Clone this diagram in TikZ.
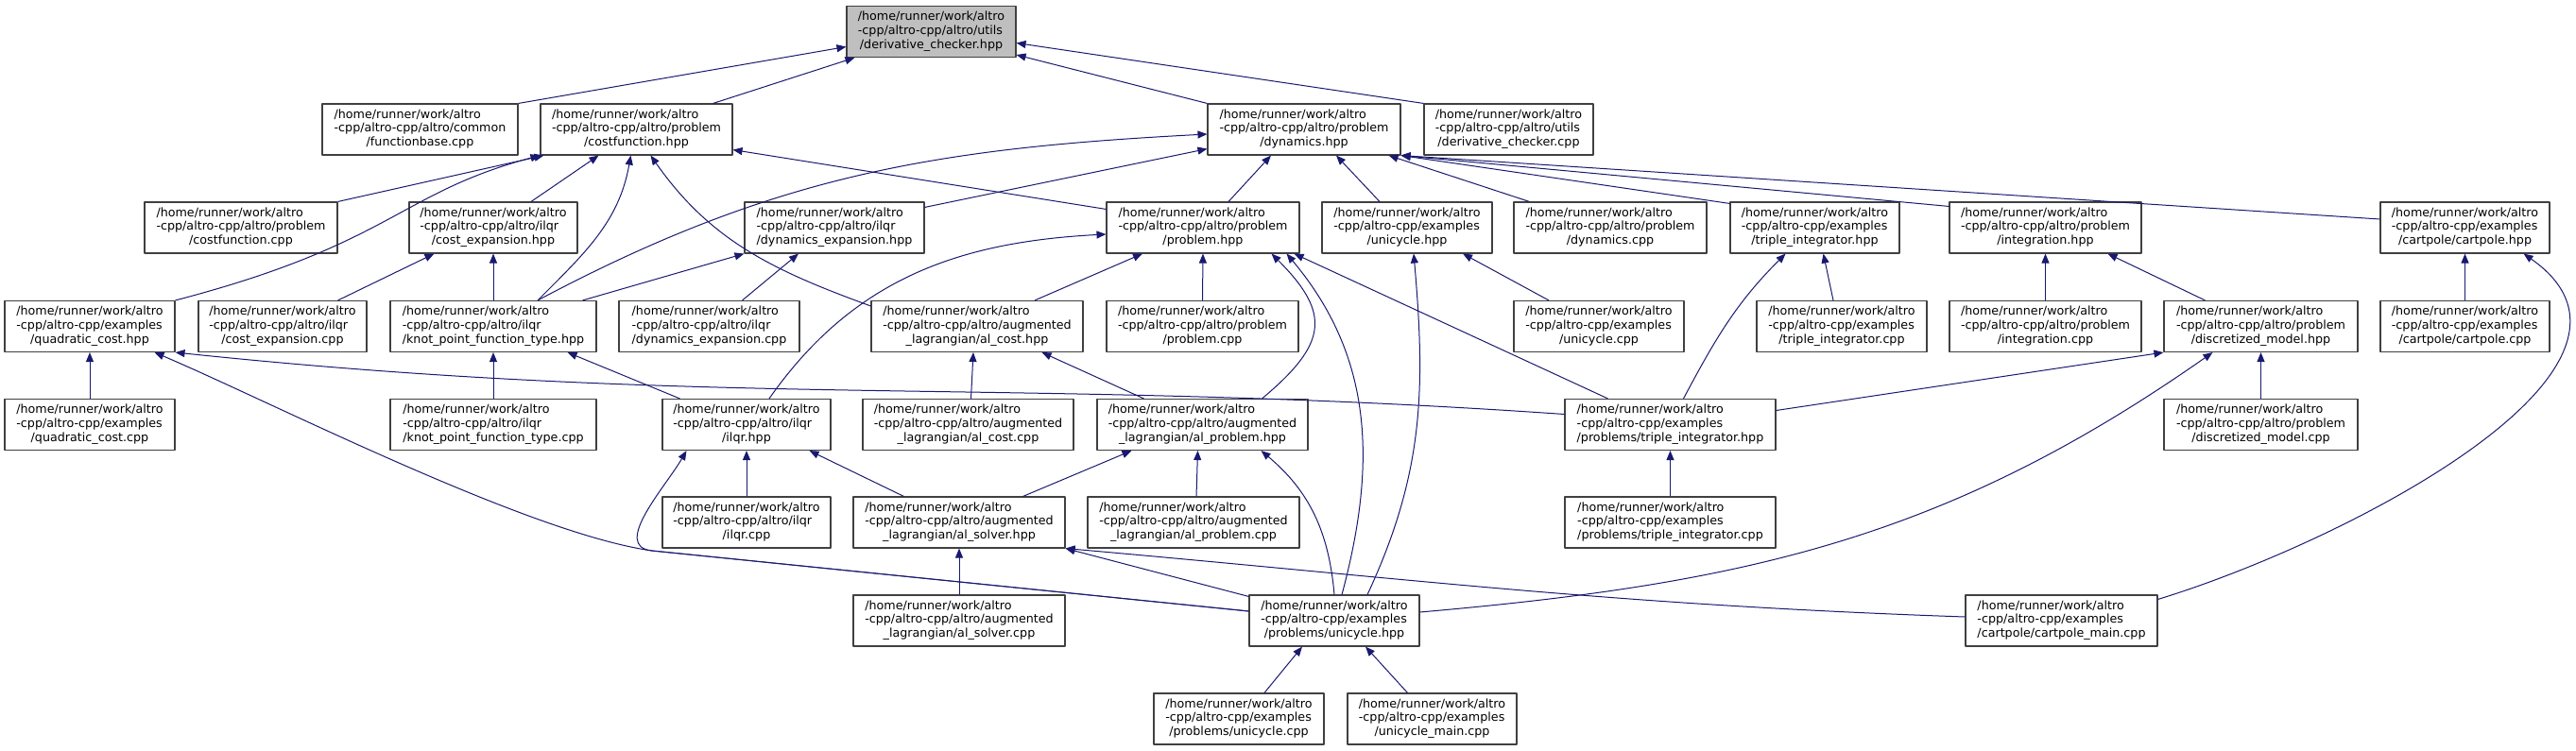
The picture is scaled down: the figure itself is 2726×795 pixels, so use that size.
\documentclass[tikz,border=0pt]{standalone}
\usepackage{fontspec}
\setmainfont{DejaVu Sans}
\usetikzlibrary{arrows.meta}
\definecolor{edgeblue}{HTML}{191970}
\newcommand{\fpath}[2]{\begin{tabular}{@{}l@{}}/home/runner/work/altro\\#1\\\multicolumn{1}{@{}c@{}}{#2}\end{tabular}}
\begin{document}
\begin{tikzpicture}[x=1pt,y=-1pt,line join=round,>={Triangle[length=10pt,width=8pt]},font=\fontsize{12.7}{14.8}\selectfont,
  incfile/.style={draw=black!75,line width=1.1pt,fill=white,minimum width=#1,minimum height=54pt,inner sep=0pt},
  dep/.style={draw=edgeblue,line width=1pt,->}]
\useasboundingbox (0,0) rectangle (2726,795);
\node[incfile=179pt,fill=black!25] (root) at (985.5,33.5) {\fpath{-cpp/altro-cpp/altro/utils}{/derivative\_checker.hpp}};
\node[incfile=207pt] (fb) at (444.5,137) {\fpath{-cpp/altro-cpp/altro/common}{/functionbase.cpp}};
\node[incfile=203pt] (cf) at (673.5,137) {\fpath{-cpp/altro-cpp/altro/problem}{/costfunction.hpp}};
\node[incfile=204pt] (dyn) at (1380,137) {\fpath{-cpp/altro-cpp/altro/problem}{/dynamics.hpp}};
\node[incfile=179pt] (dccpp) at (1596.5,137) {\fpath{-cpp/altro-cpp/altro/utils}{/derivative\_checker.cpp}};
\node[incfile=204pt] (cfcpp) at (255,241) {\fpath{-cpp/altro-cpp/altro/problem}{/costfunction.cpp}};
\node[incfile=178pt] (ce) at (522,241) {\fpath{-cpp/altro-cpp/altro/ilqr}{/cost\_expansion.hpp}};
\node[incfile=190pt] (de) at (883,241) {\fpath{-cpp/altro-cpp/altro/ilqr}{/dynamics\_expansion.hpp}};
\node[incfile=204pt] (prob) at (1273,241) {\fpath{-cpp/altro-cpp/altro/problem}{/problem.hpp}};
\node[incfile=180pt] (unih) at (1489,241) {\fpath{-cpp/altro-cpp/examples}{/unicycle.hpp}};
\node[incfile=204pt] (dyncpp) at (1704,241) {\fpath{-cpp/altro-cpp/altro/problem}{/dynamics.cpp}};
\node[incfile=179pt] (trih) at (1920.5,241) {\fpath{-cpp/altro-cpp/examples}{/triple\_integrator.hpp}};
\node[incfile=203pt] (integ) at (2164.5,241) {\fpath{-cpp/altro-cpp/altro/problem}{/integration.hpp}};
\node[incfile=179pt] (cart) at (2608.5,241) {\fpath{-cpp/altro-cpp/examples}{/cartpole/cartpole.hpp}};
\node[incfile=180pt] (quad) at (95,345.5) {\fpath{-cpp/altro-cpp/examples}{/quadratic\_cost.hpp}};
\node[incfile=178pt] (cecpp) at (299,345.5) {\fpath{-cpp/altro-cpp/altro/ilqr}{/cost\_expansion.cpp}};
\node[incfile=218pt] (kp) at (522,345.5) {\fpath{-cpp/altro-cpp/altro/ilqr}{/knot\_point\_function\_type.hpp}};
\node[incfile=191pt] (decpp) at (750.5,345.5) {\fpath{-cpp/altro-cpp/altro/ilqr}{/dynamics\_expansion.cpp}};
\node[incfile=224pt] (alcost) at (1034,345.5) {\fpath{-cpp/altro-cpp/altro/augmented}{\_lagrangian/al\_cost.hpp}};
\node[incfile=203pt] (probcpp) at (1272.5,345.5) {\fpath{-cpp/altro-cpp/altro/problem}{/problem.cpp}};
\node[incfile=180pt] (unicpp) at (1692,345.5) {\fpath{-cpp/altro-cpp/examples}{/unicycle.cpp}};
\node[incfile=180pt] (tricpp) at (1949,345.5) {\fpath{-cpp/altro-cpp/examples}{/triple\_integrator.cpp}};
\node[incfile=203pt] (integcpp) at (2164.5,345.5) {\fpath{-cpp/altro-cpp/altro/problem}{/integration.cpp}};
\node[incfile=205pt] (disc) at (2392.5,345.5) {\fpath{-cpp/altro-cpp/altro/problem}{/discretized\_model.hpp}};
\node[incfile=179pt] (cartcpp) at (2608.5,345.5) {\fpath{-cpp/altro-cpp/examples}{/cartpole/cartpole.cpp}};
\node[incfile=180pt] (quadcpp) at (95,449.5) {\fpath{-cpp/altro-cpp/examples}{/quadratic\_cost.cpp}};
\node[incfile=218pt] (kpcpp) at (522,449.5) {\fpath{-cpp/altro-cpp/altro/ilqr}{/knot\_point\_function\_type.cpp}};
\node[incfile=178pt] (ilqr) at (790,449.5) {\fpath{-cpp/altro-cpp/altro/ilqr}{/ilqr.hpp}};
\node[incfile=223pt] (alcostcpp) at (1024.5,449.5) {\fpath{-cpp/altro-cpp/altro/augmented}{\_lagrangian/al\_cost.cpp}};
\node[incfile=223pt] (alprob) at (1272.5,449.5) {\fpath{-cpp/altro-cpp/altro/augmented}{\_lagrangian/al\_problem.hpp}};
\node[incfile=223pt] (pt) at (1767.5,449.5) {\fpath{-cpp/altro-cpp/examples}{/problems/triple\_integrator.hpp}};
\node[incfile=205pt] (disccpp) at (2392.5,449.5) {\fpath{-cpp/altro-cpp/altro/problem}{/discretized\_model.cpp}};
\node[incfile=178pt] (ilqrcpp) at (790,553) {\fpath{-cpp/altro-cpp/altro/ilqr}{/ilqr.cpp}};
\node[incfile=224pt] (alsolver) at (1015,553) {\fpath{-cpp/altro-cpp/altro/augmented}{\_lagrangian/al\_solver.hpp}};
\node[incfile=224pt] (alprobcpp) at (1263,553) {\fpath{-cpp/altro-cpp/altro/augmented}{\_lagrangian/al\_problem.cpp}};
\node[incfile=223pt] (ptcpp) at (1767.5,553) {\fpath{-cpp/altro-cpp/examples}{/problems/triple\_integrator.cpp}};
\node[incfile=224pt] (alsolvercpp) at (1015,657) {\fpath{-cpp/altro-cpp/altro/augmented}{\_lagrangian/al\_solver.cpp}};
\node[incfile=180pt] (pu) at (1412,657) {\fpath{-cpp/altro-cpp/examples}{/problems/unicycle.hpp}};
\node[incfile=203pt] (cartmain) at (2181.5,657) {\fpath{-cpp/altro-cpp/examples}{/cartpole/cartpole\_main.cpp}};
\node[incfile=180pt] (pucpp) at (1311,761) {\fpath{-cpp/altro-cpp/examples}{/problems/unicycle.cpp}};
\node[incfile=179pt] (unimain) at (1515.5,761) {\fpath{-cpp/altro-cpp/examples}{/unicycle\_main.cpp}};
\coordinate (bend) at (690,583);
% includes of derivative_checker.hpp
\draw[dep] (fb.north east) -- ([yshift=-16pt]root.west);
\draw[dep] ([xshift=-21pt]cf.north east) -- ([xshift=9pt]root.south west);
\draw[dep] (dyn.north west) -- ([yshift=3pt]root.south east);
\draw[dep] (dccpp.north west) -- ([yshift=-12pt]root.east);
% costfunction.hpp
\draw[dep] (cfcpp.north east) -- ([xshift=4pt]cf.south west);
\draw[dep] (quad.north east) .. controls +(230,-60) and +(-150,40) .. (cf.south west);
\draw[dep] ([xshift=40pt]ce.north) -- ([xshift=-40pt]cf.south);
\draw[dep] ([xshift=47pt]kp.north) to[out=45,in=-100] ([xshift=-6pt]cf.south);
\draw[dep] ([yshift=-6pt]alcost.north west) to[out=160,in=-55] ([xshift=15pt]cf.south);
\draw[dep] ([yshift=-8pt]prob.north west) -- ([yshift=6pt]cf.south east);
% dynamics.hpp
\draw[dep] ([xshift=47pt]kp.north) to[out=28,in=183] ([yshift=-5pt]dyn.west);
\draw[dep] ([yshift=-6pt]de.north east) -- ([yshift=7pt]dyn.south west);
\draw[dep] ([xshift=27pt]prob.north) -- ([xshift=-35pt]dyn.south);
\draw[dep] ([xshift=-29pt]unih.north) -- ([xshift=34pt]dyn.south);
\draw[dep] ([xshift=17pt]dyncpp.north west) -- ([xshift=-13pt]dyn.south east);
\draw[dep] ([yshift=-2pt]trih.north west) -- (dyn.south east);
\draw[dep] ([yshift=-5pt]integ.north west) -- (dyn.south east);
\draw[dep] ([yshift=9pt]cart.west) -- (dyn.south east);
% problem.hpp
\draw[dep] ([xshift=24pt]ilqr.north) to[out=55,in=183] ([yshift=-7pt]prob.west);
\draw[dep] ([xshift=61pt]alcost.north) -- ([xshift=-64pt]prob.south);
\draw[dep] (probcpp.north) -- (prob.south);
\draw[dep] ([xshift=63pt]alprob.north) to[out=40,in=-45,looseness=1.5] ([xshift=-30pt]prob.south east);
\draw[dep] ([xshift=8pt]pu.north) to[out=75,in=-50] ([xshift=-14pt]prob.south east);
\draw[dep] ([xshift=-66pt]pt.north) -- ([xshift=-6pt]prob.south east);
% examples
\draw[dep] ([xshift=-53pt]unicpp.north) -- ([xshift=59pt]unih.south);
\draw[dep] ([xshift=35pt]pu.north) to[out=65,in=-85] ([xshift=7pt]unih.south);
\draw[dep] ([xshift=-9pt]tricpp.north) -- ([xshift=9pt]trih.south);
\draw[dep] ([xshift=14pt]pt.north) to[out=62,in=-135] ([xshift=-31pt]trih.south);
\draw[dep] (integcpp.north) -- (integ.south);
\draw[dep] ([xshift=-59pt]disc.north) -- ([xshift=66pt]integ.south);
\draw[dep] (cartcpp.north) -- (cart.south);
\draw[dep] ([yshift=-5pt]cartmain.north east) to[out=17,in=-35] ([xshift=-28pt]cart.south east);
\draw[dep] (disccpp.north) -- (disc.south);
\draw[dep] ([yshift=15pt]pt.east) -- (disc.south west);
\draw[dep] ([yshift=9pt]pu.east) to[out=5,in=-145] ([xshift=52pt]disc.south west);
\draw[dep] (quadcpp.north) -- (quad.south);
\draw[dep] ([yshift=10pt]pu.west) -- (bend) to[out=172,in=-23,looseness=0.6] ([xshift=-22pt]quad.south east);
\draw[dep] ([yshift=11pt]pt.west) .. controls +(-575,-40) and +(573,60) .. (quad.south east);
% ilqr
\draw[dep] (kpcpp.north) -- (kp.south);
\draw[dep] ([xshift=19pt]ilqr.north west) -- ([xshift=-31pt]kp.south east);
\draw[dep] ([xshift=-31pt]cecpp.north east) -- ([xshift=27pt]ce.south west);
\draw[dep] (kp.north) -- (ce.south);
\draw[dep] ([xshift=35pt]decpp.north) -- ([xshift=-38pt]de.south);
\draw[dep] ([xshift=-15pt]kp.north east) -- (de.south west);
\draw[dep] (ilqrcpp.north) -- (ilqr.south);
\draw[dep] ([xshift=54pt]alsolver.north west) -- ([xshift=-23pt]ilqr.south east);
\draw[dep] ([yshift=10pt]pu.west) -- (bend) to[out=174,in=-120] ([xshift=26pt]ilqr.south west);
% augmented_lagrangian
\draw[dep] ([xshift=3pt]alcostcpp.north) -- ([xshift=-4pt]alcost.south);
\draw[dep] ([xshift=50pt]alprob.north west) -- ([xshift=-44pt]alcost.south east);
\draw[dep] ([xshift=-45pt]alsolver.north east) -- ([xshift=37pt]alprob.south west);
\draw[dep] ([xshift=3pt]alprobcpp.north) -- ([xshift=-5pt]alprob.south);
\draw[dep] (pu.north) to[out=95,in=-40] ([xshift=-50pt]alprob.south east);
\draw[dep] (alsolvercpp.north) -- (alsolver.south);
\draw[dep] ([yshift=-2pt]pu.north west) -- (alsolver.south east);
\draw[dep] ([yshift=4pt]cartmain.west) .. controls +(-374,-13) and +(373,33) .. (alsolver.south east);
% problems/*
\draw[dep] ([xshift=27pt]pucpp.north) -- ([xshift=-34pt]pu.south);
\draw[dep] ([xshift=-26pt]unimain.north) -- ([xshift=33pt]pu.south);
\draw[dep] (ptcpp.north) -- (pt.south);
\end{tikzpicture}
\end{document}
